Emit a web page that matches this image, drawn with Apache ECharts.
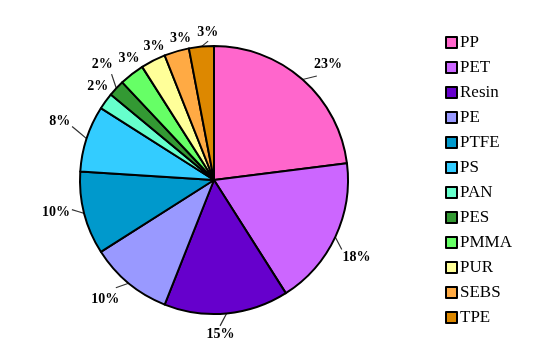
<!DOCTYPE html>
<html><head><meta charset="utf-8">
<script src="https://cdn.jsdelivr.net/npm/echarts@6/dist/echarts.min.js"></script>
<style>html,body{margin:0;padding:0;background:#fff}#c{width:550px;height:352px}</style>
</head><body><div id="c"></div>
<script>
const categories = ['PP','PET','Resin','PE','PTFE','PS','PAN','PES','PMMA','PUR','SEBS','TPE'];
const values = [23,18,15,10,10,8,2,2,3,3,3,3];
const colors = ['#ff66cc','#cc66ff','#6600cc','#9999ff','#0099cc','#33ccff','#66ffcc','#339933','#66ff66','#ffff99','#ffaa44','#dd8800'];

const CX = 214, CY = 180;
const labelGap = {PES: 15, TPE: 7, PS: 19, PP: 14};
const chart = echarts.init(document.getElementById('c'));
chart.setOption({
  animation:false,
  legend:{
    orient:'vertical', left:440, top:29, itemGap:8, itemWidth:11, itemHeight:11, icon:'rect',
    itemStyle:{borderColor:'#000',borderWidth:2},
    textStyle:{fontFamily:'Liberation Serif',fontSize:17,color:'#000',padding:[0,0,0,-2]},
    data:categories
  },
  series:[{
    type:'pie', center:[CX,CY], radius:134, startAngle:90, clockwise:true,
    avoidLabelOverlap:false,
    itemStyle:{borderColor:'#000',borderWidth:2},
    label:{show:true,position:'outside',formatter:'{d}%',fontFamily:'Liberation Serif',fontWeight:'bold',fontSize:14,color:'#000'},
    labelLine:{show:true,length:9,length2:7,lineStyle:{color:'#333',width:1.2}},
    labelLayout:function(p){
      const pts = p.labelLinePoints;
      if(!pts) return {};
      const dx = pts[0][0]-CX, dy = pts[0][1]-CY;
      const r = Math.hypot(dx,dy);
      const th = Math.atan2(dy,dx) + 3*Math.PI/180;
      const ux = Math.cos(th), uy = Math.sin(th);
      const ext = Math.abs(ux)*p.labelRect.width/2 + Math.abs(uy)*p.labelRect.height/2;
      const name = categories[p.dataIndex];
      const gap = labelGap[name] != null ? labelGap[name] : (values[p.dataIndex] >= 8 ? 12 : 3);
      const R = r + gap + ext;
      const lx = CX+ux*R, ly = CY+uy*R + 1;
      const ex = CX+ux*(R-ext-1), ey = CY+uy*(R-ext-1) + 1;
      const line = gap > 4 ? [pts[0], [(pts[0][0]+ex)/2,(pts[0][1]+ey)/2], [ex,ey]] : [pts[0],pts[0],pts[0]];
      return {x: lx, y: ly, align:'center', verticalAlign:'middle', labelLinePoints: line};
    },
    data:categories.map((n,i)=>({name:n,value:values[i],itemStyle:{color:colors[i]}}))
  }]
});
</script></body></html>
